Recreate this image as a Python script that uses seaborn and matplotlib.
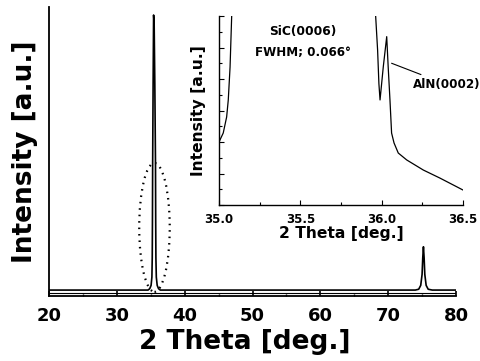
import numpy as np
import pandas as pd
import matplotlib
matplotlib.use("Agg")
import matplotlib.pyplot as plt
from matplotlib.patches import Ellipse
from matplotlib.ticker import MultipleLocator
import seaborn as sns

# ---------------- data ----------------
two_theta = [20, 25, 30, 33, 34, 34.6, 34.85, 35.05, 35.17, 35.22, 35.25, 35.28,
             35.35, 35.42, 35.5, 35.6, 35.7, 35.73, 35.76, 35.82, 35.95, 36.15,
             36.4, 37, 40, 50, 60, 70, 74, 74.5, 74.8, 75.0, 75.1, 75.2, 75.3,
             75.4, 75.6, 75.9, 76.5, 80]
intensity = [0.3, 0.3, 0.3, 0.3, 0.3, 0.3, 0.8, 2, 5, 12, 25, 46,
             75, 100, 97, 75, 46, 25, 12, 5, 2, 0.8,
             0.3, 0.3, 0.3, 0.3, 0.3, 0.3, 0.3, 0.6, 2, 6, 12, 16, 12,
             6, 2, 0.6, 0.3, 0.3]

# inset: two visible branches around the off-scale SiC(0006) peak
inset_theta_a = [35.0, 35.026, 35.047, 35.057, 35.068, 35.078, 35.082]
inset_int_a = [4.0, 4.57, 5.59, 6.67, 8.76, 12.0, 13.0]
inset_theta_b = [35.958, 35.963, 35.975, 35.983, 35.99, 36.01, 36.031, 36.04,
                 36.051, 36.061, 36.076, 36.102, 36.154, 36.256, 36.358,
                 36.461, 36.5]
inset_int_b = [13.0, 12.0, 9.84, 7.7, 6.67, 8.78, 10.69, 8.78,
               6.67, 4.57, 3.94, 3.3, 2.86, 2.22, 1.71, 1.16, 0.95]

main_xticks = [20, 30, 40, 50, 60, 70, 80]
inset_xticks = [35.0, 35.5, 36.0, 36.5]

# ---------------- style ----------------
sns.set_theme(style="white")
plt.rcParams['font.family'] = ['DejaVu Sans']
plt.rcParams['font.weight'] = 'bold'
plt.rcParams['axes.labelweight'] = 'bold'
plt.rcParams['text.color'] = 'black'
plt.rcParams['axes.labelcolor'] = 'black'
plt.rcParams['xtick.color'] = 'black'
plt.rcParams['ytick.color'] = 'black'
plt.rcParams['xtick.labelcolor'] = 'black'

fig = plt.figure(figsize=(4.8, 3.61), dpi=100)

# ---------------- main axes ----------------
ax = fig.add_axes([49/480, 1 - 296/361, (456 - 49)/480, (296 - 7)/361])
df = pd.DataFrame({"x": two_theta, "y": intensity})
sns.lineplot(data=df, x="x", y="y", ax=ax, color="black", lw=1.2, sort=False,
             estimator=None)
ax.set_xlim(20, 80)
ax.set_ylim(-1.85, 102.9)
ax.axhline(-0.6, color="black", lw=0.8)
for s in ["top", "right"]:
    ax.spines[s].set_visible(False)
for s in ["left", "bottom"]:
    ax.spines[s].set_color("black")
    ax.spines[s].set_linewidth(1.3)
ax.set_yticks([])
ax.set_xticks(main_xticks)
ax.set_xticklabels([str(v) for v in main_xticks], fontsize=13, fontweight="bold",
                   color="black")
ax.xaxis.set_minor_locator(MultipleLocator(5))
ax.tick_params(axis="x", which="major", direction="in", length=3.6, width=1.2,
               pad=8, color="black", bottom=True)
ax.tick_params(axis="x", which="minor", direction="in", length=1.8, width=1.0,
               color="black", bottom=True)
ax.set_xlabel("2 Theta [deg.]", fontsize=19, fontweight="bold", color="black")
ax.xaxis.set_label_coords(0.482, -0.115)
ax.set_ylabel("Intensity [a.u.]", fontsize=19, fontweight="bold", labelpad=8,
              color="black")

ell = Ellipse((35.55, 23.0), width=4.5, height=46.7, fill=False,
              edgecolor="black", lw=1.6, linestyle=(0, (0.7, 2.2)))
ax.add_patch(ell)

# ---------------- inset ----------------
ins = fig.add_axes([219/480, 1 - 205/361, (463 - 219)/480, (205 - 16)/361])
ins.set_facecolor("none")
sns.lineplot(x=inset_theta_a, y=inset_int_a, ax=ins, color="black", lw=0.9,
             sort=False, estimator=None)
sns.lineplot(x=inset_theta_b, y=inset_int_b, ax=ins, color="black", lw=0.9,
             sort=False, estimator=None)
ins.set_xlim(35.0, 36.5)
ins.set_ylim(0, 12)
for s in ["top", "right"]:
    ins.spines[s].set_visible(False)
for s in ["left", "bottom"]:
    ins.spines[s].set_color("black")
    ins.spines[s].set_linewidth(1.0)
ins.set_xticks(inset_xticks)
ins.set_xticklabels([f"{v:.1f}" for v in inset_xticks], fontsize=8.5,
                    fontweight="bold", color="black")
ins.xaxis.set_minor_locator(MultipleLocator(0.25))
ins.yaxis.set_major_locator(MultipleLocator(2))
ins.yaxis.set_minor_locator(MultipleLocator(1))
ins.set_yticklabels([])
ins.tick_params(axis="x", which="major", direction="in", length=3.5, width=0.8,
                pad=5.5, color="black", bottom=True)
ins.tick_params(axis="x", which="minor", direction="in", length=2.5, width=0.8,
                color="black", bottom=True)
ins.tick_params(axis="y", which="major", direction="in", length=3.5, width=0.8,
                color="black", left=True, labelleft=False)
ins.tick_params(axis="y", which="minor", direction="in", length=2.5, width=0.8,
                color="black", left=True)
ins.set_xlabel("2 Theta [deg.]", fontsize=11.2, fontweight="bold", labelpad=0,
               color="black")
ins.set_ylabel("Intensity [a.u.]", fontsize=11.2, fontweight="bold", labelpad=6,
               color="black")

ins.text(35.515, 11.0, "SiC(0006)", ha="center", va="center", fontsize=8.8,
         fontweight="bold", color="black")
ins.text(35.515, 9.67, "FWHM; 0.066°", ha="center", va="center", fontsize=8.6,
         fontweight="bold", color="black")
ins.annotate("AlN(0002)", xy=(36.061, 9.0), xytext=(36.19, 7.66),
             ha="left", va="center", fontsize=8.6, fontweight="bold",
             color="black",
             arrowprops=dict(arrowstyle="-", color="black", lw=0.8,
                             shrinkA=0, shrinkB=0),
             annotation_clip=False)

fig.savefig("out.png", dpi=100)
